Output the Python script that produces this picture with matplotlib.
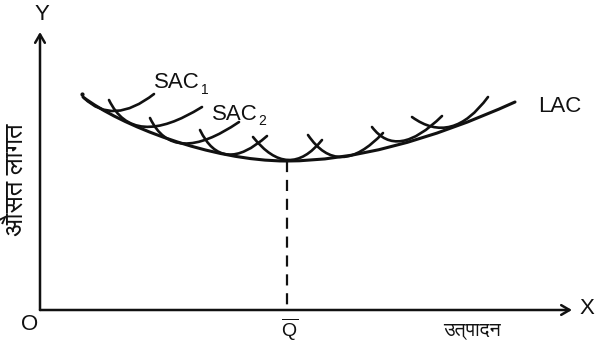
import matplotlib
matplotlib.use('Agg')
import matplotlib.pyplot as plt
from matplotlib.path import Path
from matplotlib.patches import PathPatch, FancyArrowPatch

# ---------------- data (diagram coordinates, origin at O) ----------------
# LAC: cubic Bezier (falling part) + quadratic Bezier (rising part)
lac_left = [(43, 213), (80, 185), (170, 149), (247, 149)]
lac_right_ctrl = [(345, 149), (475, 208)]
# SAC curves: start, control, end (quadratic Bezier)
sac_start = [(44, 212), (69, 210), (110, 192), (160, 180), (213, 173), (268, 175), (332, 183), (372, 193)]
sac_ctrl = [(73, 184), (93, 160), (133, 143), (182, 134), (248.5, 128.5), (298.5, 130), (357, 149.5), (412, 164)]
sac_end = [(114, 216), (162, 203), (199, 188), (227, 174), (282, 170), (343, 177), (402, 194), (448, 213)]
q_bar = 247
y_top = 278
x_right = 532

deva_font = 'FreeSans'
plt.rcParams['font.family'] = ['Liberation Sans', 'DejaVu Sans']
plt.rcParams['mathtext.fontset'] = 'custom'
plt.rcParams['mathtext.rm'] = 'Liberation Sans'

fig = plt.figure(figsize=(6, 3.52), dpi=100)
ax = fig.add_axes([0, 0, 1, 1])
ax.set_xlim(-40, 560)
ax.set_ylim(-42, 310)
ax.axis('off')

ink = '#111111'

# axes with arrows
ax.add_patch(FancyArrowPatch((0, 0), (0, y_top), arrowstyle='->,head_length=6,head_width=3.5',
                             color=ink, lw=1.8, mutation_scale=1, shrinkA=0, shrinkB=0))
ax.add_patch(FancyArrowPatch((0, 0), (x_right, 0), arrowstyle='->,head_length=6,head_width=3.5',
                             color=ink, lw=1.8, mutation_scale=1, shrinkA=0, shrinkB=0))

# LAC
verts = [lac_left[0], lac_left[1], lac_left[2], lac_left[3], lac_right_ctrl[0], lac_right_ctrl[1]]
codes = [Path.MOVETO, Path.CURVE4, Path.CURVE4, Path.CURVE4, Path.CURVE3, Path.CURVE3]
ax.add_patch(PathPatch(Path(verts, codes), fill=False, ec=ink, lw=2.2, capstyle='round'))
ax.plot([lac_left[0][0] - 1.5], [lac_left[0][1] + 3.5], 'o', color=ink, ms=2)

# SACs
for s, c, e in zip(sac_start, sac_ctrl, sac_end):
    p = Path([s, c, e], [Path.MOVETO, Path.CURVE3, Path.CURVE3])
    ax.add_patch(PathPatch(p, fill=False, ec=ink, lw=1.9, capstyle='round'))

# dashed line to Q
ax.plot([q_bar, q_bar], [lac_left[3][1], 0], color=ink, lw=1.6, dashes=(5, 3.5))

# labels
ax.text(520, 204, 'LAC', fontsize=16, color=ink, ha='center', va='center')
ax.text(114, 222, 'SAC', fontsize=16, color=ink, ha='left', va='baseline')
ax.text(161, 216, '1', fontsize=10, color=ink, ha='left', va='baseline')
ax.text(172, 190, 'SAC', fontsize=16, color=ink, ha='left', va='baseline')
ax.text(218, 185, '2', fontsize=10, color=ink, ha='left', va='baseline')
ax.text(2, 295, 'Y', fontsize=16, color=ink, ha='center', va='center')
ax.text(-10, -14, 'O', fontsize=16, color=ink, ha='center', va='center')
ax.text(547, 1, 'X', fontsize=16, color=ink, ha='center', va='center')
ax.text(250, -20, r'$\overline{\mathrm{Q}}$', fontsize=14, color=ink, ha='center', va='center')
ax.text(432, -21, 'उत्पादन', fontsize=14, color=ink, ha='center', va='center',
        family=[deva_font, 'DejaVu Sans'])
ax.text(-24, 130, 'औसत लागत', fontsize=18.5, color=ink, ha='center', va='center', rotation=90,
        family=[deva_font, 'DejaVu Sans'])

fig.savefig('out.png', dpi=100)
